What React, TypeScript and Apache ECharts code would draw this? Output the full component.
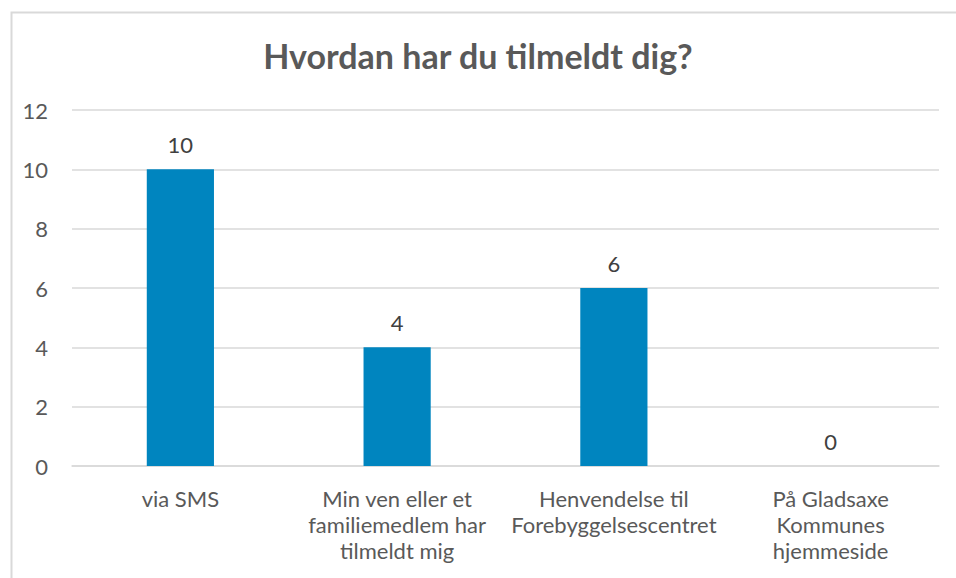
import React, { useEffect, useRef } from "react";
import * as echarts from "echarts";

const title = "Hvordan har du tilmeldt dig?";
const categories = [
  "via SMS",
  "Min ven eller et\nfamiliemedlem har\ntilmeldt mig",
  "Henvendelse til\nForebyggelsescentret",
  "På Gladsaxe\nKommunes\nhjemmeside",
];
const values = [10, 4, 6, 0];
const yMin = 0;
const yMax = 12;
const yInterval = 2;

const FONT = "Lato, 'Open Sans', sans-serif";

export default function App() {
  const ref = useRef<HTMLDivElement>(null);
  useEffect(() => {
    if (!ref.current) return;
    const chart = echarts.init(ref.current, undefined, { renderer: "svg" });
    chart.setOption({
      animation: false,
      backgroundColor: "#ffffff",
      title: {
        text: title,
        left: "center",
        top: 33,
        textStyle: {
          fontFamily: FONT,
          fontSize: 34,
          fontWeight: "bold",
          color: "#595959",
        },
      },
      graphic: [
        {
          type: "rect",
          left: 9,
          top: 10,
          shape: { x: 0, y: 0, width: 1000, height: 620 },
          style: { fill: "none", stroke: "#d9d9d9", lineWidth: 2 },
          silent: true,
          z: -1,
        },
      ],
      grid: {
        left: 72,
        right: 17,
        top: 110,
        bottom: 112,
        containLabel: false,
      },
      xAxis: {
        type: "category",
        data: categories,
        axisLine: { show: true, lineStyle: { color: "#d9d9d9", width: 1.5 } },
        axisTick: { show: false },
        axisLabel: {
          fontFamily: FONT,
          fontSize: 22,
          color: "#595959",
          margin: 19,
          lineHeight: 26,
          interval: 0,
        },
      },
      yAxis: {
        type: "value",
        min: yMin,
        max: yMax,
        interval: yInterval,
        axisLine: { show: false },
        axisTick: { show: false },
        splitLine: { lineStyle: { color: "#d9d9d9", width: 1.5 } },
        axisLabel: {
          fontFamily: FONT,
          fontSize: 22,
          color: "#595959",
          margin: 24,
        },
      },
      series: [
        {
          type: "bar",
          data: values,
          barWidth: "31%",
          itemStyle: { color: "#0085BF" },
          label: {
            show: true,
            position: "top",
            distance: 14,
            fontFamily: FONT,
            fontSize: 22,
            color: "#404040",
          },
        },
      ],
    });
    return () => chart.dispose();
  }, []);
  return (
    <div
      ref={ref}
      style={{ position: "absolute", left: 0, top: 0, width: 956, height: 578 }}
    />
  );
}
